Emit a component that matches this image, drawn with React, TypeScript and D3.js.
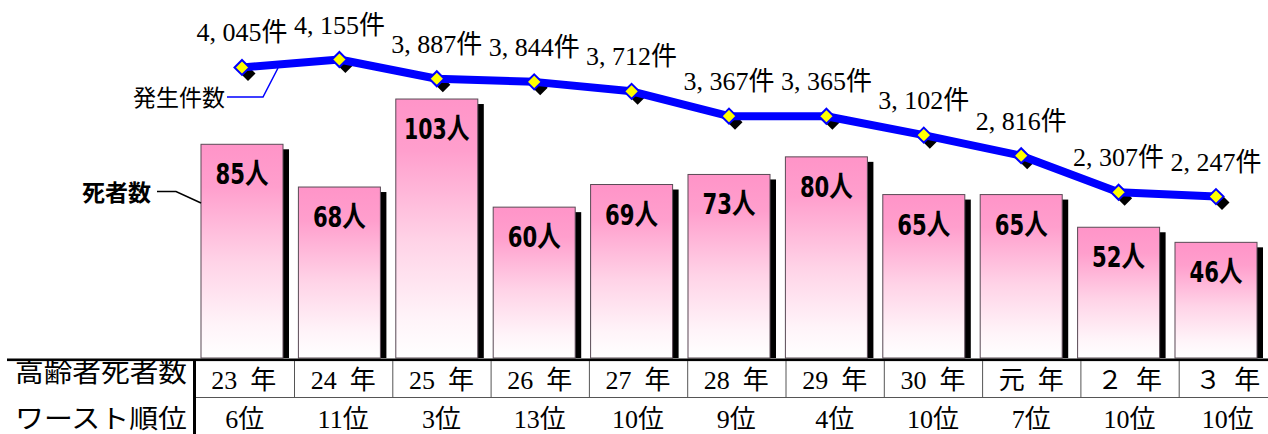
import React from "react";
import * as d3 from "d3";

// Fiscal years (平成23年 … 令和3年)
const years = ["23", "24", "25", "26", "27", "28", "29", "30", "元", "２", "３"];
// 高齢者の交通事故死者数（人）
const deaths = [85, 68, 103, 60, 69, 73, 80, 65, 65, 52, 46];
// 高齢者の交通事故発生件数（件）
const accidents = [4045, 4155, 3887, 3844, 3712, 3367, 3365, 3102, 2816, 2307, 2247];
// 全国ワースト順位
const ranks = [6, 11, 3, 13, 10, 9, 4, 10, 7, 10, 10];

const rowLabels = ["高齢者死者数", "ワースト順位"];
const deathsLabel = "死者数";
const accidentsLabel = "発生件数";

const W = 1268;
const H = 434;
const BASE = 358;

const SERIF = "'Liberation Serif', 'DejaVu Serif', 'Noto Sans CJK JP', serif";
const CJK = "'Noto Sans CJK JP', sans-serif";
const NARROW = "'Liberation Sans Narrow', 'DejaVu Sans Condensed', 'Noto Sans CJK JP', sans-serif";

export default function App() {
  const xBar = d3
    .scaleBand<string>()
    .domain(years)
    .range([193.3, 1264.7])
    .paddingInner(0.158)
    .paddingOuter(0.079);
  const xCell = d3.scaleBand<string>().domain(years).range([195.7, 1277]);
  const yBar = d3.scaleLinear().domain([0, 140]).range([BASE, 6]);
  const yLine = d3.scaleLinear().domain([0, 4900]).range([BASE, 6]);

  const bw = xBar.bandwidth();
  const cx = (i: number) => (xBar(years[i]) as number) + bw / 2;

  const linePath = d3
    .line<number>()
    .x((_, i) => cx(i))
    .y((d) => yLine(d))(accidents) as string;

  const fmt = d3.format(",");
  const diamond = "M0,-7.5L7.5,0L0,7.5L-7.5,0Z";

  return (
    <svg
      width={W}
      height={H}
      viewBox={`0 0 ${W} ${H}`}
      style={{ position: "absolute", left: 0, top: 0, background: "#fff" }}
    >
      <defs>
        <linearGradient id="barFill" x1="0" y1="0" x2="0" y2="1">
          <stop offset="0" stopColor="#ff94c8" />
          <stop offset="0.2" stopColor="#ff9fcd" />
          <stop offset="0.55" stopColor="#ffd3e7" />
          <stop offset="0.85" stopColor="#fff4f9" />
          <stop offset="1" stopColor="#ffffff" />
        </linearGradient>
      </defs>

      {/* bar shadows */}
      {deaths.map((d, i) => {
        const x = xBar(years[i]) as number;
        const y = yBar(d);
        return (
          <rect key={`s${i}`} x={x + 6} y={y + 5} width={bw} height={BASE - y - 5} fill="#000" />
        );
      })}

      {/* bars */}
      {deaths.map((d, i) => {
        const x = xBar(years[i]) as number;
        const y = yBar(d);
        return (
          <rect
            key={`b${i}`}
            x={x}
            y={y}
            width={bw}
            height={BASE - y}
            fill="url(#barFill)"
            stroke="#5a4a55"
            strokeWidth={1}
          />
        );
      })}

      {/* bar value labels */}
      {deaths.map((d, i) => {
        const s = `${d}`;
        return (
          <text
            key={`bl${i}`}
            x={cx(i)}
            y={yBar(d) + 40}
            textAnchor="middle"
            fontFamily={NARROW}
            fontWeight="bold"
            fontSize={29}
            fill="#000"
            textLength={s.length * 12.5 + 28}
            lengthAdjust="spacingAndGlyphs"
          >
            {s}人
          </text>
        );
      })}

      {/* marker shadows */}
      {accidents.map((d, i) => (
        <path key={`ms${i}`} d={diamond} transform={`translate(${cx(i) + 6},${yLine(d) + 6})`} fill="#000" />
      ))}

      {/* accidents line */}
      <path d={linePath} fill="none" stroke="#0000ff" strokeWidth={8} strokeLinejoin="round" />

      {/* markers */}
      {accidents.map((d, i) => (
        <path
          key={`m${i}`}
          d={diamond}
          transform={`translate(${cx(i)},${yLine(d)})`}
          fill="#ffff00"
          stroke="#0000ff"
          strokeWidth={2}
        />
      ))}

      {/* line value labels */}
      {accidents.map((d, i) => {
        const [head, tail] = fmt(d).split(",");
        return (
          <text
            key={`ll${i}`}
            x={cx(i)}
            y={yLine(d) - 26}
            textAnchor="middle"
            fontFamily={SERIF}
            fontSize={26}
            fill="#000"
          >
            {head},<tspan dx={6.5}>{tail}件</tspan>
          </text>
        );
      })}

      {/* series callouts */}
      <text x={225} y={106} textAnchor="end" fontFamily={CJK} fontSize={23} fill="#000">
        {accidentsLabel}
      </text>
      <polyline points="227,97 263,97 278,68" fill="none" stroke="#0000ff" strokeWidth={1.5} />

      <text x={151} y={201} textAnchor="end" fontFamily={CJK} fontWeight="bold" fontSize={23} fill="#000">
        {deathsLabel}
      </text>
      <polyline points="157,191.5 176,191.5 201,203" fill="none" stroke="#000" strokeWidth={1.5} />

      {/* table */}
      <rect x={7} y={358.5} width={W - 7} height={2.6} fill="#000" />
      <rect x={193} y={360} width={3} height={H - 360} fill="#000" />
      <line x1={196} x2={W} y1={397.5} y2={397.5} stroke="#555" strokeWidth={1} />
      {years.slice(1).map((y) => (
        <line
          key={`v${y}`}
          x1={(xCell(y) as number) + 0.5}
          x2={(xCell(y) as number) + 0.5}
          y1={361}
          y2={398}
          stroke="#555"
          strokeWidth={1}
        />
      ))}

      <text x={15} y={382} fontFamily={CJK} fontSize={26} fill="#000" textLength={172} lengthAdjust="spacingAndGlyphs">
        {rowLabels[0]}
      </text>
      <text x={15} y={428} fontFamily={CJK} fontSize={26} fill="#000" textLength={172} lengthAdjust="spacingAndGlyphs">
        {rowLabels[1]}
      </text>

      {years.map((y, i) => (
        <text
          key={`y${y}`}
          x={(xCell(y) as number) + xCell.bandwidth() / 2 - (i === 0 ? 1 : 0)}
          y={389}
          textAnchor="middle"
          fontFamily={SERIF}
          fontSize={26}
          fill="#000"
        >
          {y} <tspan dx={6.5}>年</tspan>
        </text>
      ))}

      {ranks.map((r, i) => (
        <text
          key={`r${i}`}
          x={(xCell(years[i]) as number) + xCell.bandwidth() / 2}
          y={428}
          textAnchor="middle"
          fontFamily={SERIF}
          fontSize={26}
          fill="#000"
        >
          {r}位
        </text>
      ))}
    </svg>
  );
}
